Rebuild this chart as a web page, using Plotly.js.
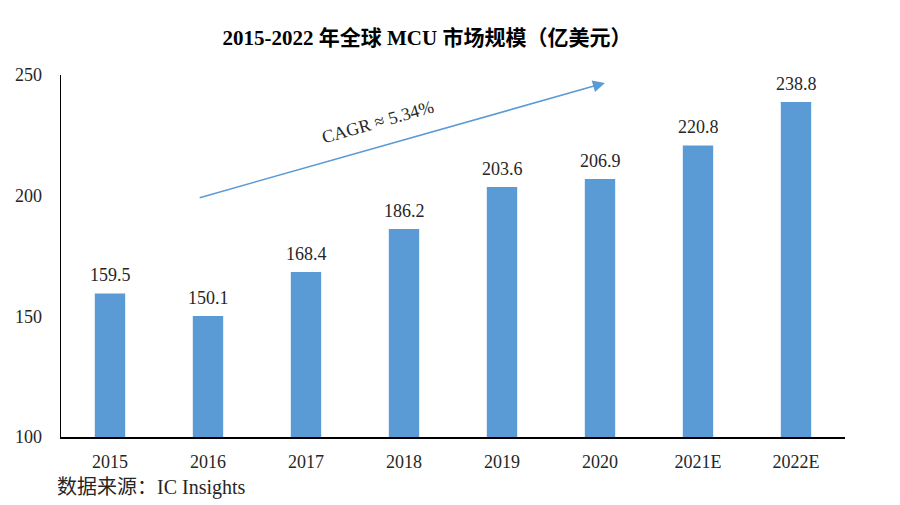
<!DOCTYPE html>
<html>
<head>
<meta charset="utf-8">
<script src="https://cdn.plot.ly/plotly-3.0.1.min.js"></script>
<style>html,body{margin:0;padding:0;background:#fff;}#chart{width:900px;height:505px;}</style>
</head>
<body>
<div id="chart"></div>
<script>
const years = ["2015","2016","2017","2018","2019","2020","2021E","2022E"];
const marketSize = [159.5, 150.1, 168.4, 186.2, 203.6, 206.9, 220.8, 238.8];
const labels = ["159.5","150.1","168.4","186.2","203.6","206.9","220.8","238.8"];
const yTicks = [100, 150, 200, 250];

const serif = '"Liberation Serif", "Times New Roman", "Noto Sans CJK SC", serif';
const blue = '#5B9BD5';
const txt = '#262626';

const trace = {
  type: 'bar',
  x: years,
  y: marketSize,
  marker: {color: blue},
  width: 0.31,
  hoverinfo: 'none'
};

const valueLabels = years.map((yr, i) => ({
  x: i, y: marketSize[i], xref: 'x', yref: 'y',
  text: labels[i], showarrow: false,
  xanchor: 'center', yanchor: 'bottom', yshift: 6,
  font: {family: serif, size: 18, color: txt}
}));

const layout = {
  width: 900, height: 505,
  margin: {l: 61, r: 55, t: 75, b: 68},
  paper_bgcolor: '#fff', plot_bgcolor: '#fff',
  showlegend: false,
  title: {
    text: '<b>2015-2022 年全球 MCU 市场规模（亿美元）</b>',
    font: {family: serif, size: 21, color: '#000'},
    x: 427/900, xanchor: 'center', xref: 'container',
    y: 1 - 38/505, yanchor: 'middle', yref: 'container'
  },
  xaxis: {
    type: 'category',
    range: [-0.5, 7.5],
    showgrid: false, zeroline: false,
    showline: true, linecolor: '#000', linewidth: 1.5,
    ticks: '', ticklabelstandoff: 8,
    tickfont: {family: serif, size: 18, color: txt}
  },
  yaxis: {
    range: [100, 250],
    tickvals: yTicks,
    ticktext: yTicks.map(String),
    showgrid: false, zeroline: false,
    showline: true, linecolor: '#000', linewidth: 1.5,
    ticks: '', ticklabelstandoff: 14,
    tickfont: {family: serif, size: 18, color: txt}
  },
  annotations: valueLabels.concat([
    {
      x: 5.05, y: 246.7, xref: 'x', yref: 'y',
      ax: 0.9, ay: 199.0, axref: 'x', ayref: 'y',
      showarrow: true, arrowhead: 2, arrowsize: 1.5, arrowwidth: 1.6,
      arrowcolor: blue, text: ''
    },
    {
      x: 2.73, y: 230.6, xref: 'x', yref: 'y',
      text: 'CAGR ≈ 5.34%', showarrow: false, textangle: -16,
      font: {family: serif, size: 18, color: txt}
    },
    {
      x: (55 - 61) / 784, y: (437 - 488) / 362, xref: 'paper', yref: 'paper',
      xanchor: 'left', yanchor: 'middle',
      text: '数据来源：IC Insights', showarrow: false,
      font: {family: serif, size: 20, color: txt}
    }
  ])
};

Plotly.newPlot('chart', [trace], layout, {displayModeBar: false, staticPlot: true});
</script>
</body>
</html>
